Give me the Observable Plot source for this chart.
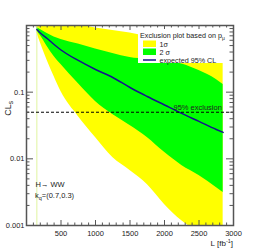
<!DOCTYPE html>
<html><head><meta charset="utf-8">
<script src="https://cdn.jsdelivr.net/npm/d3@7"></script>
<script src="https://cdn.jsdelivr.net/npm/@observablehq/plot@0.6"></script>
<style>
body{margin:0;background:#fff;}
svg{font-family:"Liberation Sans",Arial,sans-serif;}
</style>
</head><body><div id="chart"></div>
<script>
// ---- data ----
const lumi       = [150, 200, 300, 400, 500, 750, 1000, 1250, 1500, 1750, 2000, 2250, 2500, 2750, 2850];
const expected   = [0.871, 0.772, 0.638, 0.519, 0.429, 0.299, 0.219, 0.166, 0.1175, 0.0862, 0.0643, 0.048, 0.0364, 0.0276, 0.0249];
const greenHigh  = [0.93, 0.871, 0.759, 0.673, 0.617, 0.528, 0.444, 0.380, 0.331, 0.309, 0.288, 0.265, 0.211, 0.155, 0.130];
const greenLow   = [0.82, 0.708, 0.484, 0.343, 0.260, 0.135, 0.0726, 0.0463, 0.0317, 0.0209, 0.0125, 0.00796, 0.00564, 0.00372, 0.00313];
const yellowHigh = [1.2, 1.2, 1.19, 1.19, 1.15, 1.035, 0.917, 0.841, 0.772, 0.684, 0.617, 0.556, 0.501, 0.452, 0.422];
const yellowLow  = [0.78, 0.556, 0.299, 0.172, 0.102, 0.0432, 0.0209, 0.0105, 0.0067, 0.00413, 0.00207, 0.00118, 0.00080, 0.00062, 0.00060];
const exclusionLevel = 0.05;
const startLumi = 150;
const xTickLabels = [500, 1000, 1500, 2000, 2500, 3000];
const yTickLabels = [0.001, 0.01, 0.1];
const legendTitle = "Exclusion plot based on p";
const legendTitleSub = "\u03bc";
const legendItems = ["1\u03c3", "2 \u03c3", "expected 95% CL"];
const exclusionText = ["95% exclusion"];
const exclusionTextL = [2130];
const channelText = "H\u2192 WW";
const channelPos = [130, 0.0041];
const couplingMain = "k", couplingSub = "q", couplingRest = "=(0.7,0.3)";
const couplingPos = [130, 0.00276];
const yTitle = "CL", yTitleSub = "s";
const xTitle = "L [fb", xTitleSup = "-1", xTitleEnd = "]";

// ---- layout ----
const W = 259, H = 252, mL = 26, mR = 26, mT = 25, mB = 27;
const innerW = W - mL - mR, innerH = H - mT - mB;
const rows = lumi.map((L, i) => ({L, exp: expected[i], gLo: greenLow[i], gHi: greenHigh[i], yLo: yellowLow[i], yHi: yellowHigh[i]}));
const xMajor = d3.range(0, 3001, 500);
const xMinor = d3.range(100, 3000, 100).filter(v => v % 500 !== 0);
const yMajor = [0.001, 0.01, 0.1, 1];
const yMinor = [];
for (const dec of [0.001, 0.01, 0.1]) for (let k = 2; k <= 9; k++) yMinor.push(+(dec * k).toPrecision(3));
const axisColor = "#555";

const plot = Plot.plot({
  width: W, height: H, marginLeft: mL, marginRight: mR, marginTop: mT, marginBottom: mB,
  style: {fontFamily: "Liberation Sans, Arial, sans-serif", fontSize: "7.5px", background: "white", color: "#222"},
  x: {domain: [0, 3000]},
  y: {type: "log", domain: [0.001, 1]},
  marks: [
    Plot.areaY(rows, {x: "L", y1: "yLo", y2: "yHi", fill: "#ffff00", curve: "monotone-x", clip: true}),
    Plot.areaY(rows, {x: "L", y1: "gLo", y2: "gHi", fill: "#00ff00", curve: "monotone-x", clip: true}),
    Plot.ruleX([startLumi], {stroke: "#e0f4a0", strokeWidth: 1}),
    Plot.lineY(rows, {x: "L", y: "exp", stroke: "#14148c", strokeWidth: 1.5, curve: "monotone-x", clip: true}),
    Plot.ruleY([exclusionLevel], {stroke: "#000", strokeDasharray: "3,2", strokeWidth: 1}),
    Plot.text(exclusionText, {x: exclusionTextL, y: [exclusionLevel], text: d => d, textAnchor: "start", lineAnchor: "bottom", dy: -2, fontSize: 7.5, fill: "#222"}),
    Plot.text([channelText], {x: [channelPos[0]], y: [channelPos[1]], text: d => d, textAnchor: "start", lineAnchor: "middle", fontSize: 7.5, fill: "#222"}),
    // inward ticks (ROOT style)
    Plot.ruleX(xMajor, {x: d => d, insetTop: innerH - 5, stroke: axisColor}),
    Plot.ruleX(xMinor, {x: d => d, insetTop: innerH - 2.5, stroke: axisColor}),
    Plot.ruleX(xMajor, {x: d => d, insetBottom: innerH - 5, stroke: axisColor}),
    Plot.ruleX(xMinor, {x: d => d, insetBottom: innerH - 2.5, stroke: axisColor}),
    Plot.ruleY(yMajor, {y: d => d, insetRight: innerW - 7, stroke: axisColor}),
    Plot.ruleY(yMinor, {y: d => d, insetRight: innerW - 3.5, stroke: axisColor}),
    Plot.ruleY(yMajor, {y: d => d, insetLeft: innerW - 7, stroke: axisColor}),
    Plot.ruleY(yMinor, {y: d => d, insetLeft: innerW - 3.5, stroke: axisColor}),
    Plot.frame({stroke: axisColor, strokeWidth: 1.5}),
    Plot.axisX(xTickLabels, {tickSize: 0, tickPadding: 5, label: null, fontSize: 7.5, fill: "#222", tickFormat: d => String(d)}),
    Plot.axisY(yTickLabels, {tickSize: 0, tickPadding: 2, label: null, fontSize: 7.5, fill: "#222", tickFormat: d => String(d)})
  ]
});

const svg = d3.select(plot);
const sx = plot.scale("x"), sy = plot.scale("y");

// coupling label with subscript
const kt = svg.append("text").attr("x", sx.apply(couplingPos[0])).attr("y", sy.apply(couplingPos[1])).attr("dy", "0.32em")
  .attr("text-anchor", "start").attr("font-size", 7.5).attr("fill", "#222");
kt.append("tspan").text(couplingMain);
kt.append("tspan").attr("dy", 2).attr("font-size", 5.5).text(couplingSub);
kt.append("tspan").attr("dy", -2).text(couplingRest);

// y title
const yt = svg.append("text").attr("transform", `translate(10.5,${mT + 76}) rotate(-90)`).attr("text-anchor", "end")
  .attr("font-size", 9).attr("fill", "#222");
yt.append("tspan").text(yTitle);
yt.append("tspan").attr("dy", 2).attr("font-size", 6.5).text(yTitleSub);

// x title
const xt = svg.append("text").attr("x", W - mR).attr("y", H - 6.5).attr("text-anchor", "end")
  .attr("font-size", 8).attr("fill", "#222");
xt.append("tspan").text(xTitle);
xt.append("tspan").attr("dy", -3).attr("font-size", 5.5).text(xTitleSup);
xt.append("tspan").attr("dy", 3).text(xTitleEnd);

// legend
const fr = W - mR;
const lg = svg.append("g").attr("transform", `translate(${fr - 95},${mT + 4})`).attr("text-anchor", "start");
lg.append("rect").attr("x", 0).attr("y", 0).attr("width", 90).attr("height", 34).attr("fill", "white");
const lt = lg.append("text").attr("x", 2).attr("y", 9).attr("font-size", 7.2).attr("fill", "#222").attr("text-anchor", "start");
lt.append("tspan").text(legendTitle);
lt.append("tspan").attr("dy", 2).attr("font-size", 5).text(legendTitleSub);
lg.append("rect").attr("x", 5).attr("y", 11.5).attr("width", 13).attr("height", 6.5).attr("fill", "#ffff00");
lg.append("rect").attr("x", 5).attr("y", 19.5).attr("width", 13).attr("height", 6.5).attr("fill", "#00ff00");
lg.append("line").attr("x1", 5).attr("x2", 18).attr("y1", 31).attr("y2", 31).attr("stroke", "#14148c").attr("stroke-width", 1.5);
legendItems.forEach((t, i) => {
  lg.append("text").attr("x", 21.5).attr("y", 17.5 + i * 8).attr("font-size", 7.2).attr("fill", "#222").attr("text-anchor", "start").text(t);
});

document.getElementById("chart").append(plot);
</script>
</body></html>
